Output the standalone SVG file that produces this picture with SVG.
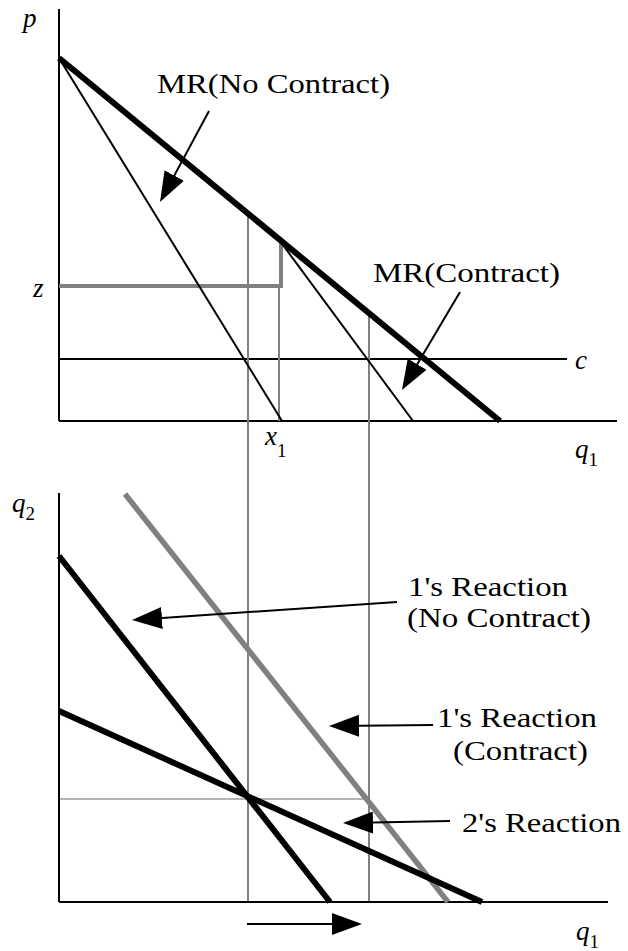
<svg xmlns="http://www.w3.org/2000/svg" width="628" height="951" viewBox="0 0 628 951">
<style>
text{font-family:"Liberation Serif","Times New Roman",serif;fill:#000}
.lbl{font-size:28px}
.math{font-size:27px;font-style:italic}
.sub{font-size:19px;font-style:normal}
.ax{stroke:#000;stroke-width:2;fill:none}
.thin{stroke:#000;stroke-width:2;fill:none}
.thick{stroke:#000;stroke-width:6;fill:none}
.gthick{stroke:#808080;stroke-width:5.5;fill:none}
.gline{stroke:#808080;stroke-width:2;fill:none}
.arr{stroke:#000;stroke-width:2;fill:none;marker-end:url(#ah)}
</style>
<defs>
<marker id="ah" viewBox="0 0 30 22" refX="25" refY="11" markerWidth="30" markerHeight="22" markerUnits="userSpaceOnUse" orient="auto">
<path d="M0,0 L30,11 L0,22 z" fill="#000"/>
</marker>
</defs>
<rect width="628" height="951" fill="#fff"/>

<g id="top-axes">
<line class="ax" x1="59" y1="9" x2="59" y2="421"/>
<line class="ax" x1="59" y1="421" x2="617" y2="421"/>
<text class="math" x="23" y="27">p</text>
<text class="math" x="575" y="458">q<tspan class="sub" dy="8">1</tspan></text>
</g>

<g id="cost-line">
<line class="thin" x1="59" y1="359" x2="567" y2="359"/>
<text class="math" x="575" y="369">c</text>
</g>

<g id="guides">
<line class="gline" x1="248" y1="214" x2="248" y2="902"/>
<line class="gline" x1="369" y1="316" x2="369" y2="902"/>
<line class="gline" x1="279" y1="286" x2="279" y2="421"/>
<path d="M59,286 H281 V242" stroke="#808080" stroke-width="4" fill="none"/>
<line x1="59" y1="799" x2="369" y2="799" stroke="#b4b4b4" stroke-width="2"/>
<text class="math" x="33" y="297">z</text>
<text class="math" x="265" y="445">x<tspan class="sub" dy="12">1</tspan></text>
</g>

<g id="demand">
<line class="thick" x1="59" y1="58" x2="500" y2="421"/>
</g>

<g id="mr-no-contract">
<line class="thin" x1="59" y1="58" x2="282" y2="421"/>
<text class="lbl" x="157" y="93" textLength="233" lengthAdjust="spacingAndGlyphs">MR(No Contract)</text>
</g>

<g id="mr-contract">
<line class="thin" x1="280" y1="241" x2="413" y2="421"/>
<text class="lbl" x="373" y="282" textLength="187" lengthAdjust="spacingAndGlyphs">MR(Contract)</text>
</g>

<g id="bottom-axes">
<line class="ax" x1="59" y1="493" x2="59" y2="902"/>
<line class="ax" x1="59" y1="902" x2="608" y2="902"/>
<text class="math" x="12" y="512">q<tspan class="sub" dy="8">2</tspan></text>
<text class="math" x="576" y="940">q<tspan class="sub" dy="8">1</tspan></text>
</g>

<g id="reaction1-no-contract">
<line class="thick" x1="59" y1="556" x2="330" y2="902"/>
<text class="lbl" x="408" y="596" textLength="160" lengthAdjust="spacingAndGlyphs">1's Reaction</text>
<text class="lbl" x="407" y="627" textLength="184" lengthAdjust="spacingAndGlyphs">(No Contract)</text>
</g>

<g id="reaction1-contract">
<line class="gthick" x1="125" y1="494" x2="448" y2="902"/>
<text class="lbl" x="437" y="727" textLength="160" lengthAdjust="spacingAndGlyphs">1's Reaction</text>
<text class="lbl" x="453" y="760" textLength="135" lengthAdjust="spacingAndGlyphs">(Contract)</text>
</g>

<g id="reaction2">
<line class="thick" x1="59" y1="711" x2="482" y2="902"/>
<text class="lbl" x="462" y="832" textLength="159" lengthAdjust="spacingAndGlyphs">2's Reaction</text>
</g>

<g id="connectors">
<line class="arr" x1="209" y1="111" x2="162.4" y2="197.6"/>
<line class="arr" x1="460" y1="292" x2="404.5" y2="385.7"/>
<line class="arr" x1="397" y1="602" x2="137" y2="619.7"/>
<line class="arr" x1="433" y1="725" x2="334" y2="726"/>
<line class="arr" x1="450" y1="821" x2="348" y2="823"/>
<line class="arr" x1="247" y1="924" x2="357" y2="924"/>
</g>
</svg>
